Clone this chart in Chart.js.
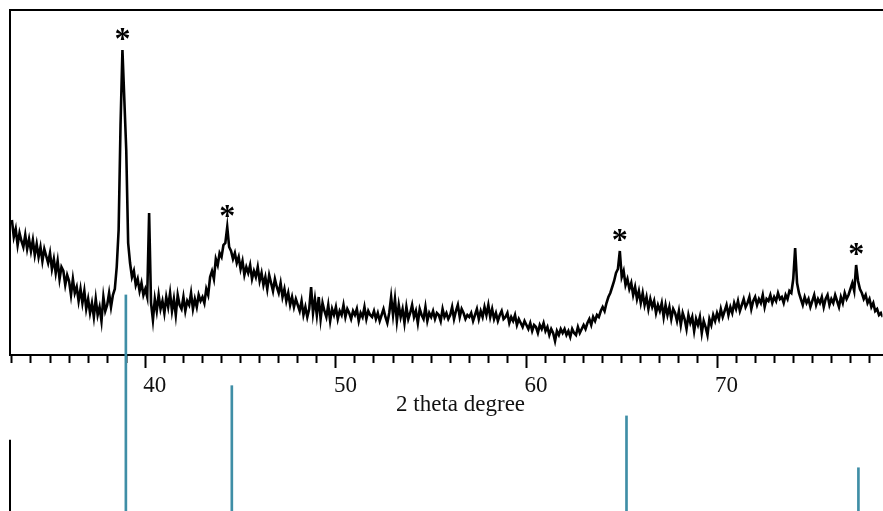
<!DOCTYPE html>
<html>
<head>
<meta charset="utf-8">
<script src="https://cdn.jsdelivr.net/npm/chart.js@4.4.1/dist/chart.umd.min.js"></script>
<style>
  html, body { margin: 0; padding: 0; background: #fff; }
  canvas { display: block; }
</style>
</head>
<body>
<canvas id="xrdChart" width="883" height="511"></canvas>
<script>
///////////////////////
// data
///////////////////////
// 2θ grid of the measured pattern (0.1° per point)
const thetaStart = 32.5;
const thetaStep = 0.1;

const intensity = [
  135, 118, 126, 110, 122, 114, 108, 120, 106, 116,
  104, 115, 100, 111, 98, 108, 94, 106, 99, 92,
  102, 86, 96, 82, 94, 76, 88, 84, 70, 80,
  74, 60, 76, 62, 68, 54, 66, 52, 64, 46,
  56, 42, 52, 38, 56, 40, 48, 34, 58, 44,
  50, 62, 48, 60, 66, 88, 125, 230, 305, 255,
  205, 112, 92, 78, 84, 70, 76, 64, 72, 60,
  66, 58, 142, 52, 35, 56, 44, 60, 46, 54,
  42, 58, 48, 62, 44, 56, 40, 60, 50, 46,
  58, 44, 54, 50, 62, 46, 56, 48, 60, 54,
  58, 52, 66, 60, 78, 84, 76, 96, 90, 102,
  98, 110, 112, 128, 108, 104, 96, 102, 92, 98,
  86, 94, 80, 88, 82, 90, 76, 84, 78, 88,
  74, 82, 70, 78, 66, 80, 72, 64, 76, 68,
  62, 72, 58, 66, 54, 62, 50, 58, 48, 56,
  50, 44, 54, 40, 48, 38, 46, 68, 42, 56,
  40, 58, 36, 52, 44, 38, 50, 34, 46, 40,
  48, 36, 44, 40, 50, 38, 46, 42, 36, 44,
  40, 46, 34, 42, 38, 48, 36, 44, 40, 38,
  44, 36, 42, 34, 40, 46, 38, 32, 42, 58,
  40, 56, 34, 50, 38, 46, 32, 48, 36, 42,
  50, 38, 44, 32, 46, 40, 36, 48, 34, 42,
  38, 44, 36, 42, 40, 34, 46, 38, 42, 36,
  40, 48, 36, 44, 50, 38, 46, 42, 36, 40,
  38, 42, 34, 40, 46, 36, 44, 38, 48, 40,
  50, 38, 46, 36, 42, 34, 40, 44, 36, 38,
  42, 32, 38, 34, 40, 30, 36, 32, 28, 34,
  30, 26, 32, 24, 30, 28, 22, 30, 26, 32,
  24, 28, 20, 26, 22, 14, 24, 20, 26, 22,
  26, 20, 24, 18, 26, 22, 20, 28, 22, 26,
  30, 26, 32, 36, 30, 38, 34, 40, 38, 44,
  48, 44, 52, 58, 62, 68, 74, 82, 86, 104,
  78, 84, 70, 76, 66, 72, 60, 68, 56, 64,
  52, 62, 50, 58, 46, 56, 48, 54, 42, 50,
  44, 52, 38, 50, 40, 48, 36, 46, 42, 34,
  44, 30, 42, 36, 26, 40, 32, 38, 24, 36,
  30, 38, 22, 34, 28, 20, 36, 30, 40, 34,
  42, 36, 46, 38, 44, 50, 40, 48, 42, 52,
  46, 54, 44, 50, 56, 48, 52, 58, 46, 54,
  58, 50, 56, 52, 60, 48, 56, 54, 60, 52,
  58, 54, 62, 56, 58, 52, 60, 56, 64, 62,
  76, 107, 72, 62, 56, 50, 58, 52, 56, 48,
  54, 60, 50, 56, 52, 58, 48, 56, 60, 50,
  56, 52, 60, 54, 48, 58, 52, 62, 56, 60,
  66, 72, 64, 90, 74, 66, 62, 56, 60, 52,
  56, 48, 52, 44, 46, 40, 42, 38
];

// reference pattern (stick lines under the axis)
const refPeakTheta = [38.48, 44.04, 64.75, 76.92];
const refPeakIntensity = [100, 58, 44, 20];

// peaks marked with *
const starPeakTheta = [38.3, 43.8, 64.4, 76.8];

// labelled ticks
const majorTickLabels = [40, 50, 60, 70];

const pattern = intensity.map((v, i) => ({ x: +(thetaStart + i * thetaStep).toFixed(1), y: v }));
const refSticks = refPeakTheta.map((t, i) => ({ x: t, y: [0, refPeakIntensity[i]] }));

///////////////////////
// plugins
///////////////////////
// * over the marked peaks
const peakStars = {
  id: 'peakStars',
  afterDatasetsDraw(chart) {
    const { ctx, scales: { x, y } } = chart;
    ctx.save();
    ctx.font = 'bold 32px "Liberation Serif"';
    ctx.fillStyle = '#000';
    ctx.textAlign = 'center';
    ctx.textBaseline = 'alphabetic';
    starPeakTheta.forEach(t => {
      const idx = Math.round((t - thetaStart) / thetaStep);
      ctx.fillText('*', x.getPixelForValue(t), y.getPixelForValue(intensity[idx]) - 1);
    });
    ctx.restore();
  }
};

// left edge of the reference panel
const lowerPanelAxis = {
  id: 'lowerPanelAxis',
  afterDraw(chart) {
    const { ctx, chartArea, scales: { y2 } } = chart;
    ctx.save();
    ctx.strokeStyle = '#000';
    ctx.lineWidth = 2;
    ctx.beginPath();
    ctx.moveTo(chartArea.left, y2.getPixelForValue(-5));
    ctx.lineTo(chartArea.left, y2.getPixelForValue(33));
    ctx.stroke();
    ctx.restore();
  }
};

///////////////////////
// chart
///////////////////////
const serif = '"Liberation Serif", "Times New Roman", serif';

new Chart(document.getElementById('xrdChart'), {
  type: 'line',
  data: {
    datasets: [
      {
        type: 'bar',
        data: refSticks,
        yAxisID: 'y2',
        backgroundColor: '#3f8ea6',
        barThickness: 2,
        clip: false,
        order: 2
      },
      {
        type: 'line',
        data: pattern,
        yAxisID: 'y',
        borderColor: '#000',
        borderWidth: 2.6,
        pointRadius: 0,
        tension: 0,
        order: 1
      }
    ]
  },
  options: {
    responsive: false,
    animation: false,
    layout: { padding: { left: 10, top: 10, right: 0, bottom: 92.2 } },
    plugins: {
      legend: { display: false },
      tooltip: { enabled: false }
    },
    scales: {
      x: {
        type: 'linear',
        position: 'bottom',
        min: 32.4,
        max: 78.18,
        offset: false,
        border: { color: '#000', width: 2 },
        grid: {
          drawOnChartArea: false,
          tickLength: 13,
          tickWidth: 2,
          tickColor: '#000',
          tickBorderDash: c => (c.tick && c.tick.value % 10 === 0) ? [] : [7, 40]
        },
        ticks: {
          stepSize: 1,
          autoSkip: false,
          includeBounds: false,
          maxRotation: 0,
          padding: 4,
          color: '#111',
          font: { family: serif, size: 23 },
          callback: v => majorTickLabels.includes(v) ? String(v) : ''
        },
        title: {
          display: true,
          text: '     2 theta degree',
          color: '#111',
          font: { family: serif, size: 23 },
          padding: { top: -12.4, bottom: 0 }
        }
      },
      xTop: {
        type: 'linear',
        position: 'top',
        border: { color: '#000', width: 2 },
        grid: { drawOnChartArea: false, drawTicks: false },
        ticks: { display: false }
      },
      y: {
        min: 0,
        max: 345,
        position: 'left',
        border: { color: '#000', width: 2 },
        grid: { drawOnChartArea: false, drawTicks: false },
        ticks: { display: false }
      },
      y2: {
        display: false,
        min: 72.2,
        max: 231.9
      }
    }
  },
  plugins: [peakStars, lowerPanelAxis]
});
</script>
</body>
</html>
